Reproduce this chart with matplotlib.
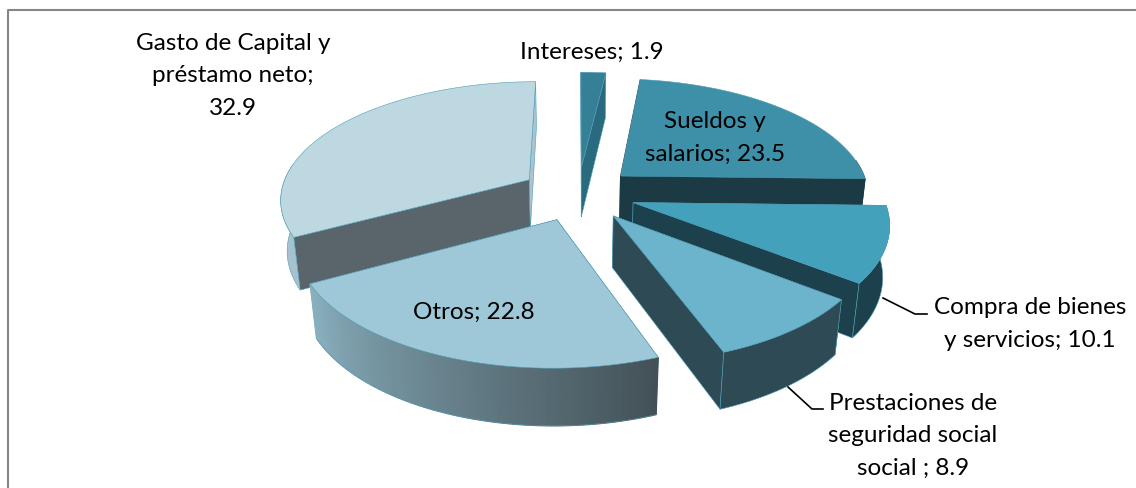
import numpy as np
import matplotlib
matplotlib.use("Agg")
import matplotlib.pyplot as plt
from matplotlib.colors import to_rgb
from matplotlib.patches import Polygon

plt.rcParams['font.family'] = ['Lato', 'DejaVu Sans']

# Datos (porcentaje del gasto)
categorias = ["Intereses", "Sueldos y salarios", "Compra de bienes y servicios",
              "Prestaciones de seguridad social", "Otros", "Gasto de Capital y préstamo neto"]
valores = [1.9, 23.5, 10.1, 8.9, 22.8, 32.9]

# Colores por sector: tapa, pared radial inicial, pared radial final, pared exterior
color_tapa = ["#357F97", "#3E90A9", "#44A1BC", "#6CB4CC", "#9EC7D8", "#BED8E2"]
color_pared = ["#2A6A7E", "#1B3A44", "#1C414D", "#2E4A55", "#435157", "#5A656B"]
color_pared_fin = ["#2A6A7E", "#1B3A44", "#1C414D", "#2E4A55", "#8AB0BF", "#A9C4CF"]
color_exterior = ["#2A6A7E", "#1B3A44", "#1C414D", "#2E4A55", "#8AB0BF", "#A5C2CE"]
color_borde = "#4F9DB6"

# Parametros de la vista
CX, CY = 578, 193.4
A, B, C = 249, 116.9, 52
K, M = 0.153, 0.022
EXPLOSION = 0.232
ORDEN = [0, 5, 1, 2, 3, 4]


def proyectar(x, y, z):
    w = 1 + K * y + M * z
    return np.column_stack([CX + A * x / w, CY + (-B * y + C * z) / w])


fig = plt.figure(figsize=(11.36, 4.88), dpi=100)
ax = fig.add_axes([0, 0, 1, 1])
ax.set_xlim(0, 1136)
ax.set_ylim(488, 0)
ax.axis('off')

# Marco
ax.plot([8, 8, 1136], [488, 10, 10], color="#868686", lw=1.5, solid_capstyle='butt')

bordes = np.cumsum([0] + valores) / sum(valores) * 2 * np.pi


def poly(pts, color, zorder, edge=True):
    ax.add_patch(Polygon(pts, closed=True, facecolor=color,
                         edgecolor=color_borde if edge else color,
                         lw=0.4 if edge else 0.9, zorder=zorder))


for n, i in enumerate(ORDEN):
    t0, t1 = bordes[i], bordes[i + 1]
    medio = (t0 + t1) / 2
    ox, oy = EXPLOSION * np.sin(medio), EXPLOSION * np.cos(medio)
    t = np.linspace(t0, t1, 80)
    xs, ys = ox + np.sin(t), oy + np.cos(t)
    z = 2 + n * 5

    apice_top = proyectar(np.array([ox]), np.array([oy]), 0)
    apice_bot = proyectar(np.array([ox]), np.array([oy]), 1)
    arco_top = proyectar(xs, ys, 0)
    arco_bot = proyectar(xs, ys, 1)

    # paredes radiales
    poly([apice_top[0], arco_top[0], arco_bot[0], apice_bot[0]], color_pared[i], z, edge=i != 1)
    poly([apice_top[0], arco_top[-1], arco_bot[-1], apice_bot[0]], color_pared_fin[i], z, edge=i != 1)

    # pared exterior, solo la parte que mira a la camara
    visibles = np.where(np.cos(t) < 0.15)[0]
    if i == 4:
        # degradado claro a oscuro de izquierda a derecha
        c0 = np.array(to_rgb(color_exterior[i]))
        c1 = np.array(to_rgb(color_pared[i]))
        for j in range(len(t) - 1):
            f = 1 - j / (len(t) - 2)
            poly([arco_top[j], arco_top[j + 1], arco_bot[j + 1], arco_bot[j]],
                 c0 * (1 - f) + c1 * f, z + 1, edge=False)
        ax.plot(arco_bot[:, 0], arco_bot[:, 1], color=color_borde, lw=0.4, zorder=z + 1)
    elif len(visibles) > 1:
        a, b = visibles[0], visibles[-1] + 1
        poly(np.vstack([arco_top[a:b], arco_bot[a:b][::-1]]), color_exterior[i], z + 1, edge=i != 1)

    # tapa
    poly(np.vstack([apice_top, arco_top]), color_tapa[i], z + 2)

# Lineas guia
ax.plot([883, 915, 927], [298, 314, 314], color="black", lw=1.2, zorder=60)
ax.plot([788, 812, 823], [387, 409, 409], color="black", lw=1.2, zorder=60)

# Etiquetas
fs = 17.5
ls = 1.68
ax.text(233, 76, "Gasto de Capital y\npréstamo neto;\n32.9", ha='center', va='center', fontsize=fs, linespacing=ls, zorder=70)
ax.text(592, 52, "Intereses; 1.9", ha='center', va='center', fontsize=fs, zorder=70)
ax.text(715, 138, "Sueldos y\nsalarios; 23.5", ha='center', va='center', fontsize=fs, linespacing=ls, zorder=70)
ax.text(1030, 324, "Compra de bienes\ny servicios; 10.1", ha='center', va='center', fontsize=fs, linespacing=ls, zorder=70)
ax.text(913, 436, "Prestaciones de\nseguridad social\nsocial ; 8.9", ha='center', va='center', fontsize=fs, linespacing=ls, zorder=70)
ax.text(474, 312, "Otros; 22.8", ha='center', va='center', fontsize=fs, zorder=70)

fig.savefig("out.png", dpi=100)
